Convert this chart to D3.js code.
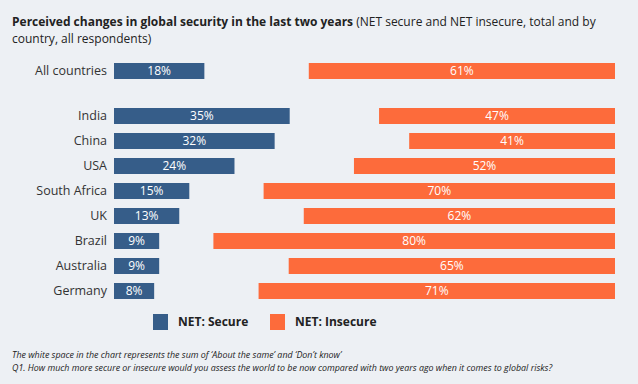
<!DOCTYPE html>
<html>
<head>
<meta charset="utf-8">
<script src="https://cdn.jsdelivr.net/npm/d3@7"></script>
<style>
  body { margin: 0; background: #edf0f4; }
  svg { display: block; font-family: "Open Sans", sans-serif; }
</style>
</head>
<body>
<script>
// Perceived changes in global security - diverging-ish bar chart

var svgWidth = 638;
var svgHeight = 384;

// data
var totalLabel = "All countries";
var totalSecure = 18;
var totalInsecure = 61;

var countries = ["India", "China", "USA", "South Africa", "UK", "Brazil", "Australia", "Germany"];
var secure = [35, 32, 24, 15, 13, 9, 9, 8];
var insecure = [47, 41, 52, 70, 62, 80, 65, 71];

var seriesNames = ["NET: Secure", "NET: Insecure"];
var colors = ["#365d89", "#fd6b3b"];

var svg = d3.select("body")
  .append("svg")
  .attr("width", svgWidth)
  .attr("height", svgHeight);

// title (one text element, wrapped with tspans)
var title = svg.append("text")
  .attr("x", 12)
  .attr("y", 26)
  .attr("font-size", 12)
  .attr("fill", "#222");
title.append("tspan").attr("font-weight", "bold")
  .text("Perceived changes in global security in the last two years");
title.append("tspan").text(" (NET secure and NET insecure, total and by");
title.append("tspan")
  .attr("x", 12)
  .attr("dy", 17)
  .text("country, all respondents)");

// scales
var x = d3.scaleLinear().domain([0, 100]).range([0, 502]);
var left = 114;
var right = 615;

var y = d3.scaleBand()
  .domain(countries)
  .range([103.5, 103.5 + 25 * countries.length])
  .paddingInner(0.36)
  .paddingOuter(0.18);

var bh = y.bandwidth();

var rows = [{ name: totalLabel, s: totalSecure, i: totalInsecure, y: y(countries[0]) - 45 }];
countries.forEach(function(c, k) {
  rows.push({ name: c, s: secure[k], i: insecure[k], y: y(c) });
});

var chart = svg.append("g");

var row = chart.selectAll("g.row")
  .data(rows)
  .enter()
  .append("g")
  .attr("class", "row")
  .attr("transform", function(d) { return "translate(0," + d.y + ")"; });

row.append("text")
  .attr("x", 107)
  .attr("y", bh / 2)
  .attr("dy", "0.35em")
  .attr("text-anchor", "end")
  .attr("font-size", 12.5)
  .attr("fill", "#333")
  .text(function(d) { return d.name; });

row.append("rect")
  .attr("x", left)
  .attr("width", function(d) { return x(d.s); })
  .attr("height", bh)
  .attr("fill", colors[0]);

row.append("text")
  .attr("x", function(d) { return left + x(d.s) / 2; })
  .attr("y", bh / 2)
  .attr("dy", "0.35em")
  .attr("text-anchor", "middle")
  .attr("font-size", 12)
  .attr("fill", "#fff")
  .text(function(d) { return d.s + "%"; });

row.append("rect")
  .attr("x", function(d) { return right - x(d.i); })
  .attr("width", function(d) { return x(d.i); })
  .attr("height", bh)
  .attr("fill", colors[1]);

row.append("text")
  .attr("x", function(d) { return right - x(d.i) / 2; })
  .attr("y", bh / 2)
  .attr("dy", "0.35em")
  .attr("text-anchor", "middle")
  .attr("font-size", 12)
  .attr("fill", "#fff")
  .text(function(d) { return d.i + "%"; });

// legend
var legendX = [153, 270];
var legend = svg.selectAll("g.legend")
  .data(seriesNames)
  .enter()
  .append("g")
  .attr("class", "legend")
  .attr("transform", function(d, k) { return "translate(" + legendX[k] + ",314)"; });

legend.append("rect")
  .attr("width", 15)
  .attr("height", 16)
  .attr("fill", function(d, k) { return colors[k]; });

legend.append("text")
  .attr("x", 25)
  .attr("y", 8)
  .attr("dy", "0.35em")
  .attr("font-size", 12)
  .attr("font-weight", "bold")
  .attr("fill", "#222")
  .text(function(d) { return d; });

// footnotes
var notes = [
  "The white space in the chart represents the sum of \u2018About the same\u2019 and \u2018Don\u2019t know\u2019",
  "Q1. How much more secure or insecure would you assess the world to be now compared with two years ago when it comes to global risks?"
];
svg.selectAll("text.note")
  .data(notes)
  .enter()
  .append("text")
  .attr("class", "note")
  .attr("x", 12)
  .attr("y", function(d, k) { return 358 + k * 13; })
  .attr("font-size", 8.9)
  .attr("font-style", "italic")
  .attr("fill", "#222")
  .text(function(d) { return d; });
</script>
</body>
</html>
